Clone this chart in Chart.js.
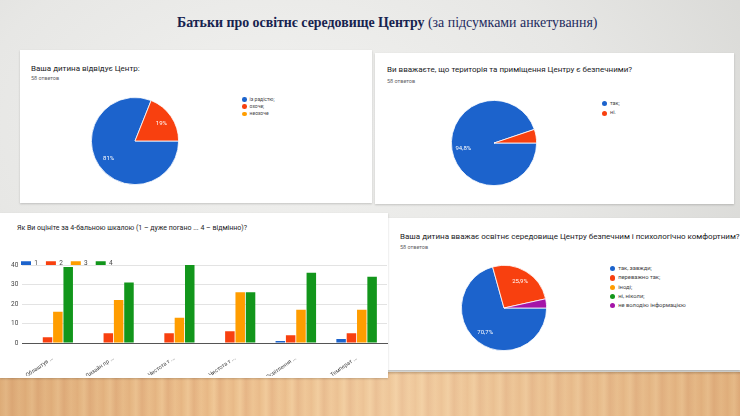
<!DOCTYPE html>
<html>
<head>
<meta charset="utf-8">
<script src="https://cdn.jsdelivr.net/npm/chart.js@4.4.1/dist/chart.umd.min.js"></script>
<style>
  body { margin: 0; width: 740px; height: 416px; overflow: hidden; font-family: Roboto, "Noto Sans", sans-serif; }
  #slide {
    position: relative; width: 740px; height: 416px; overflow: hidden;
    background: radial-gradient(ellipse 75% 85% at 38% 30%, #f2f2f0 0%, #e7e7e5 55%, #d7d7d4 100%);
  }
  .floor {
    position: absolute; left: 0; top: 372px; width: 740px; height: 44px;
    background:
      linear-gradient(180deg, rgba(120,90,60,.35) 0px, rgba(120,90,60,0) 3px),
      linear-gradient(90deg, rgba(185,125,70,.25), rgba(255,235,200,0) 30%, rgba(255,240,215,.25) 55%, rgba(185,125,70,.2) 100%),
      repeating-linear-gradient(90deg, #e9bb88 0px, #f0c897 6px, #e5b383 12px, #edc290 19px, #e8b886 26px);
  }
  .panel { position: absolute; background: #fff; box-shadow: 0 1px 2px rgba(0,0,0,.18); }
  .main-title {
    position: absolute; left: 177px; top: 15px; white-space: nowrap;
    font-family: "Liberation Serif", "DejaVu Serif", serif; font-size: 13.9px; line-height: 16px; color: #1d2b5e;
  }
  .main-title b { color: #17234f; }
  .q { position: absolute; white-space: nowrap; color: #202124; }
  .n { position: absolute; white-space: nowrap; color: #5f6368; font-size: 5.5px; line-height: 6px; }
  .legend { position: absolute; color: #444; white-space: nowrap; }
  .legend div { position: relative; }
  .legend i { position: absolute; border-radius: 50%; }
  canvas { position: absolute; }
</style>
</head>
<body>
<div id="slide">
  <div class="floor"></div>

  <div class="main-title"><b>Батьки про освітнє середовище Центру</b> (за підсумками анкетування)</div>

  <div class="panel" style="left:20px;top:50px;width:352px;height:153px;"></div>
  <div class="q" style="left:31px;top:65px;font-size:8px;line-height:8px;">Ваша дитина відвідує Центр:</div>
  <div class="n" style="left:31px;top:75px;">58 ответов</div>
  <canvas id="pieVisit" width="92" height="92" style="left:89px;top:95px;"></canvas>
  <div class="legend" id="legVisit" style="left:242px;top:96px;font-size:5px;"></div>

  <div class="panel" style="left:375px;top:53px;width:359px;height:151px;"></div>
  <div class="q" style="left:387px;top:66px;font-size:8px;line-height:8px;">Ви вважаєте, що територія та приміщення Центру є безпечними?</div>
  <div class="n" style="left:387px;top:78px;">58 ответов</div>
  <canvas id="pieSafe" width="90" height="90" style="left:449px;top:98px;"></canvas>
  <div class="legend" id="legSafe" style="left:602px;top:99px;font-size:5.5px;"></div>

  <div class="panel" style="left:388px;top:218px;width:352px;height:152px;"></div>
  <div class="q" style="left:400px;top:233px;font-size:8px;line-height:8px;">Ваша дитина вважає освітнє середовище Центру безпечним і психологічно комфортним?</div>
  <div class="n" style="left:400px;top:244px;">58 ответов</div>
  <canvas id="pieComfort" width="90" height="90" style="left:459px;top:263px;"></canvas>
  <div class="legend" id="legComfort" style="left:610px;top:264px;font-size:5.8px;"></div>

  <div class="panel" style="left:0px;top:213px;width:388px;height:165px;"></div>
  <div class="q" style="left:17px;top:224px;font-size:7px;line-height:8px;">Як Ви оцініте за 4-бальною шкалою (1 – дуже погано ... 4 – відмінно)?</div>
  <canvas id="barScores" width="388" height="165" style="left:0px;top:213px;"></canvas>
</div>

<script>
// Відповіді батьків (58 анкет)
const visitLabels = ['із радістю;', 'охоче;', 'неохоче'];
const visitCounts = [47, 11, 0];

const safeLabels = ['так;', 'ні.'];
const safeCounts = [55, 3];

const comfortLabels = ['так, завжди;', 'переважно так;', 'іноді;', 'ні, ніколи;', 'не володію інформацією'];
const comfortCounts = [41, 15, 0, 0, 2];

const aspectLabels = ['Облаштув ...', 'Дизайн пр ...', 'Чистота т ...', 'Чистота т ...', 'Освітлення ...', 'Температ ...'];
const scoreNames = ['1', '2', '3', '4'];
const score1 = [0, 0, 0, 0, 1, 2];
const score2 = [3, 5, 5, 6, 4, 5];
const score3 = [16, 22, 13, 26, 17, 17];
const score4 = [39, 31, 40, 26, 36, 34];
const scoreTicks = [0, 10, 20, 30, 40];

const palette = ['#1c63cc', '#f8400f', '#ff9d00', '#12961b', '#a414a8'];

// відсотки всередині секторів
const sliceLabels = {
    id: 'sliceLabels',
    afterDatasetsDraw(chart) {
        const ctx = chart.ctx;
        const data = chart.data.datasets[0].data;
        const total = data.reduce((a, b) => a + b, 0);
        chart.getDatasetMeta(0).data.forEach((arc, i) => {
            const share = data[i] / total * 100;
            if (share < 8) return;
            const p = arc.getProps(['x', 'y', 'startAngle', 'endAngle', 'outerRadius'], true);
            const mid = (p.startAngle + p.endAngle) / 2;
            const r = p.outerRadius * 0.73;
            const txt = share.toFixed(1).replace(/\.0$/, '').replace('.', ',') + '%';
            ctx.save();
            ctx.fillStyle = '#fff';
            ctx.font = '6px Roboto';
            ctx.textAlign = 'center';
            ctx.textBaseline = 'middle';
            ctx.fillText(txt, p.x + Math.cos(mid) * r, p.y + Math.sin(mid) * r);
            ctx.restore();
        });
    }
};

function makePie(id, labels, counts) {
    new Chart(document.getElementById(id), {
        type: 'pie',
        data: {
            labels: labels,
            datasets: [{
                data: counts,
                backgroundColor: palette.slice(0, counts.length),
                borderColor: '#fff',
                borderWidth: 0.8
            }]
        },
        options: {
            responsive: false,
            animation: false,
            rotation: 90, // Google Forms починає з "3 години"
            layout: { padding: 2 },
            plugins: { legend: { display: false }, tooltip: { enabled: false } }
        },
        plugins: [sliceLabels]
    });
}

function makeLegend(id, labels, step, dot) {
    const box = document.getElementById(id);
    labels.forEach((t, i) => {
        const row = document.createElement('div');
        row.style.height = step + 'px';
        row.style.lineHeight = step + 'px';
        row.style.paddingLeft = (dot + 3) + 'px';
        row.innerHTML = '<i style="background:' + palette[i] + ';width:' + dot + 'px;height:' + dot +
            'px;left:0;top:' + ((step - dot) / 2) + 'px"></i>' + t;
        box.appendChild(row);
    });
}

makePie('pieVisit', visitLabels, visitCounts);
makePie('pieSafe', safeLabels, safeCounts);
makePie('pieComfort', comfortLabels, comfortCounts);

makeLegend('legVisit', visitLabels, 7.2, 4.6);
makeLegend('legSafe', safeLabels, 9.4, 5);
makeLegend('legComfort', comfortLabels, 9.3, 5.2);

// легенда стовпчиків: фіксована висота і відступ зліва, як у Google Forms
const legendTweak = {
    id: 'legendTweak',
    beforeInit(chart) {
        const legend = chart.legend;
        const fit = legend.fit;
        legend.fit = function () {
            fit.bind(legend)();
            this.height = 13;
        };
        const draw = legend.draw;
        legend.draw = function () {
            this.left += 6;
            draw.bind(legend)();
            this.left -= 6;
        };
    }
};

new Chart(document.getElementById('barScores'), {
    type: 'bar',
    data: {
        labels: aspectLabels,
        datasets: [score1, score2, score3, score4].map((vals, i) => ({
            label: scoreNames[i],
            data: vals,
            backgroundColor: palette[i],
            barPercentage: 0.92,
            categoryPercentage: 0.68
        }))
    },
    options: {
        responsive: false,
        animation: false,
        layout: { padding: { left: 7, top: 39, right: 1, bottom: 2 } },
        scales: {
            x: {
                grid: { display: false },
                border: { color: '#555', width: 1 },
                ticks: { color: '#444', font: { size: 5.6, family: 'Roboto' }, minRotation: 35, maxRotation: 35, padding: 4 },
                afterFit: (s) => { s.height = 33; }
            },
            y: {
                min: 0,
                max: 40,
                afterBuildTicks: (s) => { s.ticks = scoreTicks.map(v => ({ value: v })); },
                grid: { color: (c) => c.tick && c.tick.value === 0 ? '#555' : '#e3e3e3', drawTicks: false, tickLength: 0 },
                border: { display: false },
                ticks: { color: '#444', font: { size: 6.5, family: 'Roboto' }, padding: 4 }
            }
        },
        plugins: {
            legend: {
                position: 'top',
                align: 'start',
                labels: { boxWidth: 10, boxHeight: 4, padding: 8, color: '#444', font: { size: 6.5, family: 'Roboto' } }
            },
            tooltip: { enabled: false }
        }
    },
    plugins: [legendTweak]
});
</script>
</body>
</html>
